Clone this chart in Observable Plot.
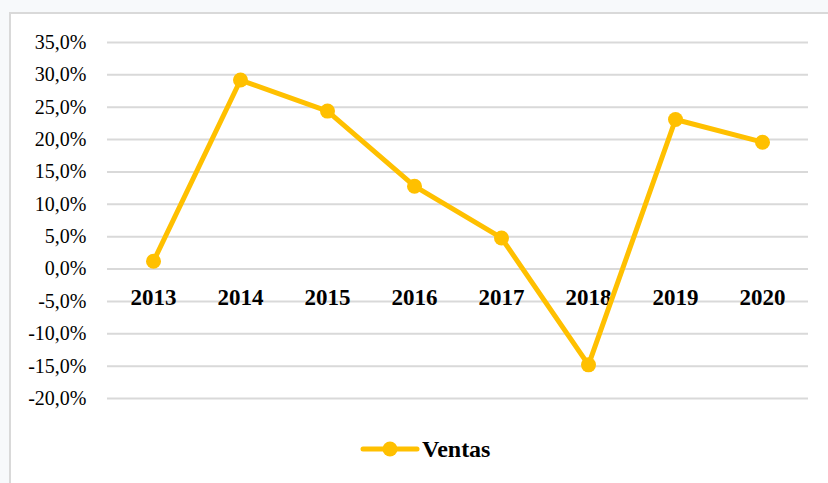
<!DOCTYPE html>
<html>
<head>
<meta charset="utf-8">
<script src="https://cdn.jsdelivr.net/npm/d3@7"></script>
<script src="https://cdn.jsdelivr.net/npm/@observablehq/plot@0.6"></script>
<style>
  html, body { margin: 0; padding: 0; background: #f7f9fb; }
  #wrap { position: relative; width: 828px; height: 483px; overflow: hidden; background: #f7f9fb; }
  #frame { position: absolute; left: 9px; top: 12px; width: 840px; height: 500px; border: 2px solid #d9d9d9; background: #ffffff; box-sizing: border-box; }
  #chart { position: absolute; left: 0; top: 0; }
  #chart svg, #chart svg text { font-family: "Liberation Serif", "DejaVu Serif", serif !important; }
  #legend { position: absolute; left: 360px; top: 429px; height: 40px; display: flex; align-items: center; font-family: "Liberation Serif", "DejaVu Serif", serif; font-weight: bold; font-size: 24px; color: #000; }
  #legend svg { margin-right: 2px; }
</style>
</head>
<body>
<div id="wrap">
  <div id="frame"></div>
  <div id="chart"></div>
  <div id="legend"></div>
</div>
<script>
const years = ["2013", "2014", "2015", "2016", "2017", "2018", "2019", "2020"];
const ventas = [1.2, 29.2, 24.4, 12.8, 4.8, -14.8, 23.1, 19.6];
const yTicks = [-20, -15, -10, -5, 0, 5, 10, 15, 20, 25, 30, 35];
const seriesName = "Ventas";
const color = "#FFC000";

const data = years.map((y, i) => ({year: y, value: ventas[i]}));
const fmt = v => v.toFixed(1).replace(".", ",") + "%";

const chart = Plot.plot({
  width: 828,
  height: 430,
  marginLeft: 107,
  marginRight: 20,
  marginTop: 42,
  marginBottom: 32,
  style: {background: "transparent"},
  x: {type: "point", domain: years, padding: 0.5, axis: null},
  y: {domain: [-20, 35], axis: null},
  marks: [
    Plot.ruleY(yTicks, {stroke: "#d9d9d9", strokeWidth: 2}),
    Plot.axisY(yTicks, {tickFormat: fmt, tickSize: 0, tickPadding: 21, fontSize: 20, fill: "#000", label: null}),
    Plot.text(years, {x: d => d, y: () => 0, dy: 29, text: d => d, fontSize: 23, fontWeight: "bold", fill: "#000"}),
    Plot.line(data, {x: "year", y: "value", stroke: color, strokeWidth: 5, strokeLinejoin: "round", strokeLinecap: "round"}),
    Plot.dot(data, {x: "year", y: "value", r: 7.5, fill: color, stroke: null})
  ]
});
document.getElementById("chart").appendChild(chart);

const legend = document.getElementById("legend");
legend.innerHTML = `<svg width="60" height="16"><line x1="3" y1="8" x2="57" y2="8" stroke="${color}" stroke-width="5" stroke-linecap="round"/><circle cx="30" cy="8" r="7.5" fill="${color}"/></svg><span>${seriesName}</span>`;
</script>
</body>
</html>
